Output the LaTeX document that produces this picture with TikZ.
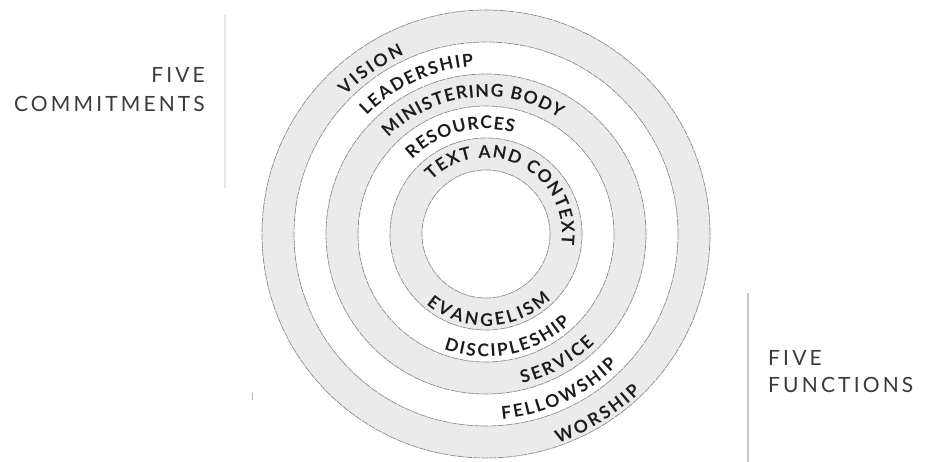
\documentclass[tikz,border=0pt]{standalone}
\usepackage{fontspec}
\usetikzlibrary{decorations.text}
\newfontfamily\lblfont{Lato}
\newfontfamily\sidefont{Lato}[LetterSpace=15]
\definecolor{ringgray}{HTML}{EBEBEB}
\definecolor{ringline}{HTML}{8C8C8C}
\definecolor{txt}{HTML}{1C1C1C}
\definecolor{sidetxt}{HTML}{3A3A3A}
\begin{document}
\begin{tikzpicture}[x=1pt,y=1pt,
  grayring/.style={fill=ringgray, draw=ringline, line width=0.7pt, dash pattern=on 7pt off 0.9pt},
  whitering/.style={fill=white, draw=ringline, line width=0.7pt, dash pattern=on 7pt off 0.9pt},
  arclabel/.style={decorate, decoration={text along path, text align=fit to path, text color=txt,
      text={|\lblfont\bfseries\fontsize{17.5}{19}\selectfont|#1}}},
  sidelabel/.style={font=\sidefont\fontsize{21}{24}\selectfont, text=sidetxt, inner sep=0pt},
  rule/.style={line width=1.4pt}
]
\useasboundingbox (0,0) rectangle (928,-462);
\coordinate (O) at (486,-234);
% rings
\draw[grayring]  (O) circle[radius=224pt];
\draw[whitering] (O) circle[radius=192pt];
\draw[grayring]  (O) circle[radius=160pt];
\draw[whitering] (O) circle[radius=128pt];
\draw[grayring]  (O) circle[radius=96pt];
\draw[whitering] (O) circle[radius=64pt];
% top labels (clockwise)
\path[arclabel={VISION}] ([shift={(135.5:197pt)}]O) arc[start angle=135.5, end angle=114.5, radius=197pt];
\path[arclabel={LEADERSHIP}] ([shift={(135.3:168pt)}]O) arc[start angle=135.3, end angle=94.2, radius=168pt];
\path[arclabel={MINISTERING BODY}] ([shift={(135.3:137pt)}]O) arc[start angle=135.3, end angle=57.5, radius=137pt];
\path[arclabel={RESOURCES}] ([shift={(134.6:105pt)}]O) arc[start angle=134.6, end angle=74.8, radius=105pt];
\path[arclabel={TEXT AND CONTEXT}] ([shift={(135.5:76pt)}]O) arc[start angle=135.5, end angle=-8, radius=76pt];
% bottom labels (counter-clockwise)
\path[arclabel={EVANGELISM}] ([shift={(229.5:92pt)}]O) arc[start angle=229.5, end angle=314.8, radius=92pt];
\path[arclabel={DISCIPLESHIP}] ([shift={(250:123pt)}]O) arc[start angle=250, end angle=313.5, radius=123pt];
\path[arclabel={SERVICE}] ([shift={(283.6:154pt)}]O) arc[start angle=283.6, end angle=314.9, radius=154pt];
\path[arclabel={FELLOWSHIP}] ([shift={(275:186pt)}]O) arc[start angle=275, end angle=315, radius=186pt];
\path[arclabel={WORSHIP}] ([shift={(289:221pt)}]O) arc[start angle=289, end angle=314.5, radius=221pt];
% side labels
\node[sidelabel, anchor=base east] (five1) at (205,-83) {FIVE};
\node[sidelabel, anchor=base east] (commit) at (205,-112) {COMMITMENTS};
\node[sidelabel, anchor=base west] (five2) at (768,-365) {FIVE};
\node[sidelabel, anchor=base west] (funcs) at (768,-392) {FUNCTIONS};
% dividers
\coordinate (l1) at (225,-15);
\coordinate (l2) at (225,-188);
\coordinate (r1) at (748,-293);
\coordinate (r2) at (748,-462);
\draw[rule, draw=black!10] (l1) -- (l2);
\draw[rule, draw=black!22] (r1) -- (r2);
\coordinate (m1) at (252,-393);
\coordinate (m2) at (252,-400);
\draw[line width=0.8pt, draw=black!30] (m1) -- (m2);
\end{tikzpicture}
\end{document}
